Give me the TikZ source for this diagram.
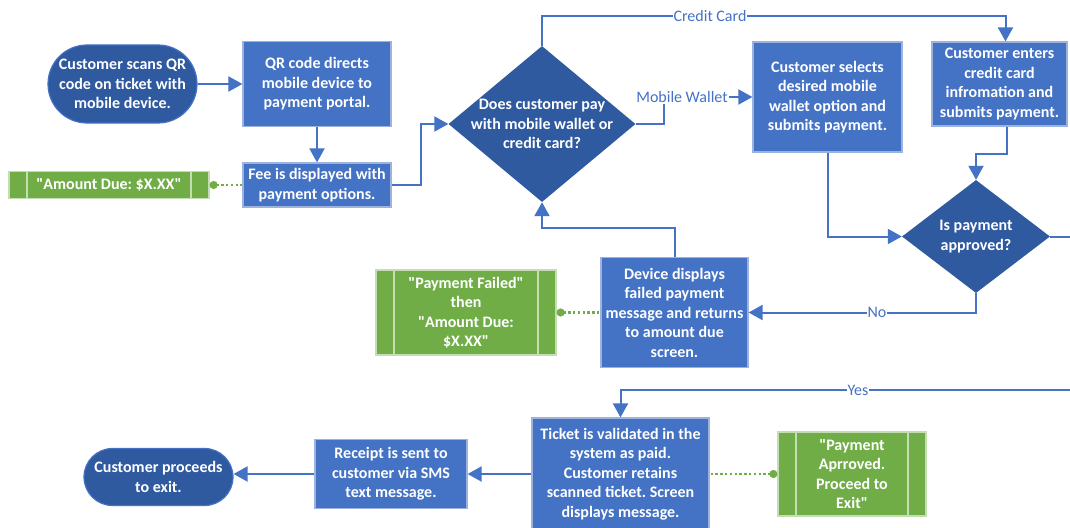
\documentclass[tikz,border=0pt]{standalone}
\usepackage{fontspec}
\setmainfont{Carlito}
\usetikzlibrary{arrows.meta,shapes.geometric}
\frenchspacing

\definecolor{boxblue}{HTML}{4472C4}
\definecolor{darkblue}{HTML}{2F5AA0}
\definecolor{edgeblue}{HTML}{9DB3DD}
\definecolor{leaf}{HTML}{70AD47}
\definecolor{leafedge}{HTML}{C5DDB3}

\newcommand{\q}{\textquotedbl}

\tikzset{
  txt/.style={font={\fontsize{16}{19.5}\selectfont\bfseries}, text=white, align=center},
  proc/.style={txt, rectangle, fill=boxblue, draw=edgeblue, line width=1.2pt, inner sep=2pt},
  term/.style={txt, rectangle, rounded corners=#1, fill=darkblue, draw=boxblue, line width=1.2pt, inner sep=2pt},
  decide/.style={diamond, fill=darkblue, draw=none, inner sep=0pt},
  dtext/.style={txt, inner sep=0pt},
  screen/.style={txt, rectangle, fill=leaf, draw=leafedge, line width=1.2pt, inner sep=2pt,
    path picture={
      \draw[leafedge, line width=1.2pt]
        ([xshift=18pt]path picture bounding box.north west) -- ([xshift=18pt]path picture bounding box.south west)
        ([xshift=-18pt]path picture bounding box.north east) -- ([xshift=-18pt]path picture bounding box.south east);
    }},
  lab/.style={fill=white, text=boxblue, inner sep=1pt, font={\fontsize{16}{19.5}\selectfont}},
  link/.style={draw=boxblue, line width=2pt},
  conn/.style={link, -{Triangle[length=14pt,width=15pt]}},
  dotlink/.style={draw=leaf, line width=2.4pt, dash pattern=on 2.4pt off 2.4pt,
    {Circle[length=8pt,width=8pt]}-}
}

\begin{document}
\begin{tikzpicture}[x=1pt, y=-1pt]
  \fill[white] (0,0) rectangle (1070,527);
  \useasboundingbox (0,0) rectangle (1070,527);

  % process steps
  \node[term=39pt, minimum width=149pt, minimum height=78pt] (start) at (122.5,84)
    {Customer scans QR\\code on ticket with\\mobile device.};
  \node[proc, minimum width=148pt, minimum height=85pt] (qr) at (317,84)
    {QR code directs\\mobile device to\\payment portal.};
  \node[proc, minimum width=148pt, minimum height=44pt] (fee) at (317,185)
    {Fee is displayed with\\payment options.};
  \node[screen, minimum width=200pt, minimum height=27pt] (amt) at (109,185)
    {\q Amount Due: \$X.XX\q};

  \node[decide, minimum width=187pt, minimum height=156pt] (d1) at (542,124) {};
  \node[dtext] (d1t) at (d1.center) {Does customer pay\\with mobile wallet or\\credit card?};

  \node[proc, minimum width=149pt, minimum height=110pt] (wal) at (827.5,97)
    {Customer selects\\desired mobile\\wallet option and\\submits payment.};
  \node[proc, minimum width=135pt, minimum height=84pt] (cc) at (999.5,84)
    {Customer enters\\credit card\\infromation and\\submits payment.};

  \node[decide, minimum width=148pt, minimum height=113pt] (d2) at (976,236.5) {};
  \node[dtext] (d2t) at (d2.center) {Is payment\\approved?};

  \node[proc, minimum width=147pt, minimum height=110pt] (dev) at (674.5,312.5)
    {Device displays\\failed payment\\message and returns\\to amount due\\screen.};
  \node[screen, minimum width=180pt, minimum height=85pt] (fail) at (466,312.5)
    {\q Payment Failed\q\\then\\\q Amount Due:\\\$X.XX\q};

  \node[proc, minimum width=177pt, minimum height=112pt] (tick) at (620.5,474)
    {Ticket is validated in the\\system as paid.\\Customer retains\\scanned ticket. Screen\\displays message.};
  \node[screen, minimum width=148pt, minimum height=84pt] (appr) at (852,474)
    {\q Payment\\Aprroved.\\Proceed to\\Exit\q};
  \node[proc, minimum width=152pt, minimum height=69pt] (rec) at (391,474)
    {Receipt is sent to\\customer via SMS\\text message.};
  \node[term=28.5pt, minimum width=149pt, minimum height=57pt] (end) at (158.5,477)
    {Customer proceeds\\to exit.};

  % loose ends at the right border
  \coordinate (outR) at (1070,236.5);
  \coordinate (inR) at (1070,390);

  % flow
  \draw[conn] (start.east) -- (start.east -| qr.west);
  \draw[conn] (qr.south) -- (fee.north);
  \draw[conn] (fee.east) -- ++(29,0) |- (d1.west);
  \draw[conn] (d1.north) -- ++(0,-30) -| ([xshift=6pt]cc.north);
  \draw[conn] (d1.east) -- ++(28,0) |- (wal.west);
  \draw[conn] (wal.south) |- (d2.west);
  \draw[conn] ([xshift=7.5pt]cc.south) -- ++(0,27) -| (d2.north);
  \draw[link] (d2.east) -- (outR);
  \draw[conn] (d2.south) |- (dev.east);
  \draw[conn] (dev.north) -- ++(0,-29) -| (d1.south);
  \draw[conn] (inR) -| (tick.north);
  \draw[conn] (tick.west) -- (rec.east);
  \draw[conn] (rec.west) -- (rec.west -| end.east);

  % screen messages
  \draw[dotlink] (amt.east) -- (fee.west);
  \draw[dotlink] (fail.east) -- (dev.west);
  \draw[dotlink] (appr.west) -- (tick.east);

  % branch labels
  \node[lab] (lcc) at (710,16) {Credit Card};
  \node[lab] (lmw) at (682,97) {Mobile Wallet};
  \node[lab] (lno) at (877,312.5) {No};
  \node[lab] (lyes) at (858,390) {Yes};
\end{tikzpicture}
\end{document}
